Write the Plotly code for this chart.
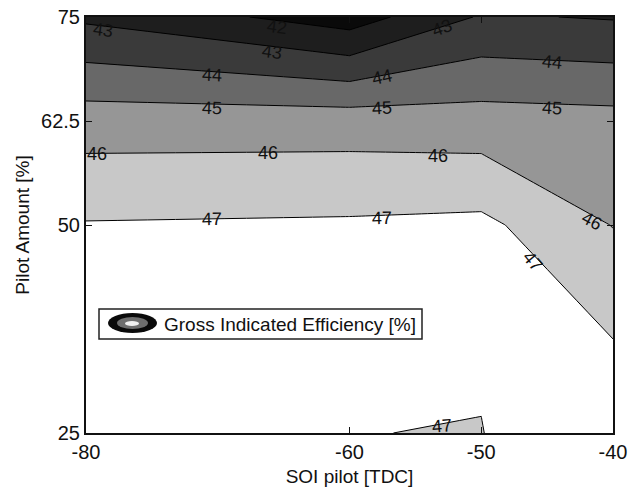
import plotly.graph_objects as go

# ---- data ----
soi_pilot = [-80, -60, -50, -40]          # x grid [TDC]
pilot_amount = [25, 50, 62.5, 75]         # y grid [%]
gross_eff = [                              # rows follow pilot_amount
    [47.40, 47.01, 46.98, 47.85],
    [47.06, 47.13, 47.23, 45.97],
    [45.52, 45.53, 45.44, 45.35],
    [42.82, 41.50, 43.10, 42.93],
]
level_start, level_end, level_step = 42, 47, 1
x_ticks = [-80, -60, -50, -40]
y_ticks = [25, 50, 62.5, 75]
y_tick_text = ["25", "50", "62.5", "75"]

# contour label placement (level, x, y, angle)
label_levels = [43, 42, 43, 44, 45, 46, 46, 47, 43, 44, 45, 46, 47, 44, 45, 46, 47, 47]
label_x = [-78.7, -65.5, -65.9, -70.4, -70.4, -79.2, -66.2, -70.4, -53.0, -57.5, -57.5,
           -53.3, -57.5, -44.6, -44.6, -41.6, -46.1, -53.0]
label_y = [73.4, 73.8, 70.8, 68.0, 64.1, 58.5, 58.7, 50.7, 73.7, 67.8, 64.1,
           58.3, 50.85, 69.6, 64.1, 50.5, 45.7, 25.9]
label_angle = [7, 7, 7, 3, 2, 0, 0, -1, -20, -12, -3, 0, -1, 6, 3, 28, 50, -5]

band_colors = ["#0a0a0a", "#1e1e1e", "#3a3a3a", "#686868", "#969696", "#c8c8c8", "#ffffff"]
colorscale = [[i / (len(band_colors) - 1), c] for i, c in enumerate(band_colors)]

FONT = "Liberation Sans, Arial, sans-serif"
W, H = 635, 489
L, R, T, B = 86, 22, 17, 56
PW, PH = W - L - R, H - T - B


def px(xp):
    return (xp - L) / PW


def py(yp):
    return (H - B - yp) / PH


fig = go.Figure()
fig.add_trace(go.Contour(
    x=soi_pilot, y=pilot_amount, z=gross_eff,
    autocontour=False,
    contours=dict(start=level_start, end=level_end, size=level_step,
                  coloring="fill", showlines=True),
    colorscale=colorscale, showscale=False,
    line=dict(color="#000000", width=1, smoothing=0),
    hoverinfo="skip",
))

annotations = []
for lv, lx, ly, la in zip(label_levels, label_x, label_y, label_angle):
    annotations.append(dict(x=lx, y=ly, xref="x", yref="y", text=str(lv), showarrow=False,
                            textangle=la, font=dict(family=FONT, size=18, color="#111111")))

# legend-like box
annotations.append(dict(x=px(162), y=py(324), xref="paper", yref="paper", xanchor="left",
                        yanchor="middle", text="Gross Indicated Efficiency [%]", showarrow=False,
                        font=dict(family=FONT, size=19, color="#111111")))
shapes = [
    dict(type="rect", xref="paper", yref="paper", x0=px(99), x1=px(422), y0=py(339), y1=py(309),
         line=dict(color="#222222", width=1.5), fillcolor="#ffffff", layer="above"),
    dict(type="circle", xref="paper", yref="paper", x0=px(108), x1=px(157), y0=py(333), y1=py(313),
         line=dict(width=0), fillcolor="#0a0a0a", layer="above"),
    dict(type="circle", xref="paper", yref="paper", x0=px(117), x1=px(148), y0=py(329), y1=py(317),
         line=dict(width=0), fillcolor="#6e6e6e", layer="above"),
    dict(type="circle", xref="paper", yref="paper", x0=px(125), x1=px(139), y0=py(326), y1=py(321),
         line=dict(width=0), fillcolor="#f0f0f0", layer="above"),
]

axis_common = dict(showline=True, linecolor="#111111", linewidth=2, mirror="ticks",
                   ticks="inside", ticklen=6, tickwidth=1, tickcolor="#111111",
                   showgrid=False, zeroline=False, automargin=False,
                   tickfont=dict(family=FONT, size=20, color="#111111"))

fig.update_layout(
    width=W, height=H,
    margin=dict(l=L, r=R, t=T, b=B),
    paper_bgcolor="#ffffff", plot_bgcolor="#ffffff",
    xaxis=dict(range=[-80, -40], tickmode="array", tickvals=x_ticks,
               ticktext=[str(v) for v in x_ticks],
               title=dict(text="SOI pilot [TDC]", standoff=8,
                          font=dict(family=FONT, size=19, color="#111111")),
               **axis_common),
    yaxis=dict(range=[25, 75], tickmode="array", tickvals=y_ticks, ticktext=y_tick_text,
               title=dict(text="Pilot Amount [%]", standoff=6,
                          font=dict(family=FONT, size=19, color="#111111")),
               **axis_common),
    annotations=annotations,
    shapes=shapes,
    showlegend=False,
)

fig.write_html("out.html")
